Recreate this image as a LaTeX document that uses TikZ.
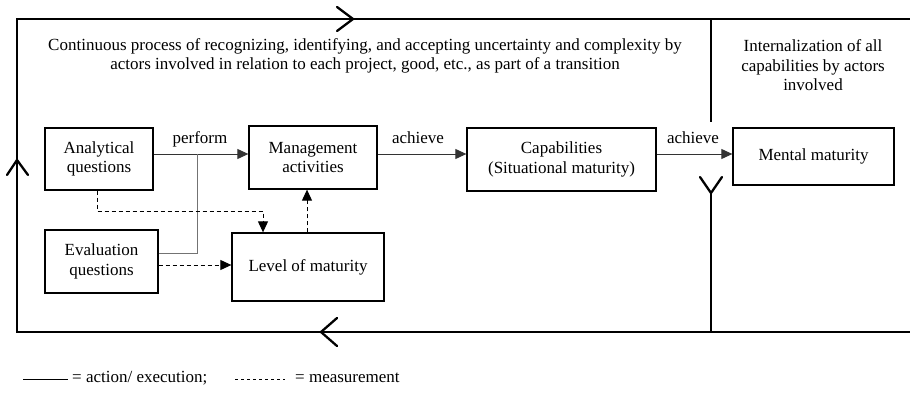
\documentclass[tikz,border=0pt]{standalone}
\usepackage{fontspec}
\setmainfont{Liberation Serif}
\usetikzlibrary{arrows.meta,calc}
\begin{document}
\begin{tikzpicture}[x=1pt,y=-1pt,
  txt/.style={font=\fontsize{17}{19.5}\selectfont,align=center,inner sep=0pt},
  box/.style={draw=black,line width=1.3pt,txt,minimum width=#1},
  frameline/.style={line width=2.3pt,line cap=butt},
  chev/.style={line width=2.3pt,line cap=round,line join=miter},
  conn/.style={line width=1pt,draw=black!80,-{Triangle[length=11pt,width=10pt]}},
  meas/.style={line width=1pt,dash pattern=on 4pt off 3pt,-{Triangle[length=11pt,width=10pt]}},
  lbl/.style={txt}
]
\useasboundingbox (0,0) rectangle (910,393);

% frame
\coordinate (tr) at (910,19);
\coordinate (tl) at (17,19);
\coordinate (bl) at (17,332);
\coordinate (br) at (910,332);
\draw[frameline] (tr) -- (tl) -- (bl) -- (br);
\coordinate (dtop) at (711,19);
\coordinate (dmid) at (711,122);
\coordinate (dlow) at (711,193);
\coordinate (dbot) at (711,332);
\draw[frameline] (dtop) -- (dmid);
\draw[frameline] (dlow) -- (dbot);
% chevrons
\draw[chev] (337,7) -- (353,19) -- (337,31);
\draw[chev] (7,175) -- (17,160) -- (28,175);
\draw[chev] (337,318) -- (321,332) -- (337,346);
\draw[chev] (700,177) -- (711,193) -- (722,177);

% texts
\node[txt] (maintext) at (365,56) {Continuous process of recognizing, identifying, and accepting uncertainty and complexity by\\actors involved in relation to each project, good, etc., as part of a transition};
\node[txt] (inttext) at (813,65.5) {Internalization of all\\capabilities by actors\\involved};

% boxes
\node[box=108pt,minimum height=62pt] (A) at (99,159) {Analytical\\questions};
\node[box=128pt,minimum height=63pt] (M) at (313,157.5) {Management\\activities};
\node[box=113pt,minimum height=63pt] (E) at (101.5,261.5) {Evaluation\\questions};
\node[box=152pt,minimum height=68pt] (L) at (308,267) {Level of maturity};
\node[box=189pt,minimum height=63pt] (C) at (561.5,159.5) {Capabilities\\(Situational maturity)};
\node[box=161pt,minimum height=57pt] (MM) at (813.5,156.5) {Mental maturity};

% connectors
\coordinate (j) at (197,154);
\draw[conn] (A.east |- j) -- (M.west |- j);
\draw[line width=1pt,draw=black!55] (E.east |- 0,253) -| (j);
\draw[conn] (M.east |- j) -- (C.west |- j);
\draw[conn] (C.east |- j) -- (MM.west |- j);
\node[lbl] (perform) at (200,139) {perform};
\node[lbl] (ach1) at (418,138) {achieve};
\node[lbl] (ach2) at (693,138) {achieve};

\draw[meas] (A.south -| 97,0) |- (263,211) -- (L.north -| 263,0);
\draw[meas] (E.east |- 0,265) -- (L.west |- 0,265);
\draw[meas] (L.north -| 307,0) -- (M.south -| 307,0);

% legend
\coordinate (ls1) at (23,379);
\coordinate (ls2) at (68,379);
\draw[line width=1pt] (ls1) -- (ls2);
\node[txt,anchor=west] (leg1) at (72,378) {= action/ execution;};
\coordinate (ld1) at (235,379);
\coordinate (ld2) at (285,379);
\draw[line width=0.9pt,dash pattern=on 3pt off 3pt] (ld1) -- (ld2);
\node[txt,anchor=west] (leg2) at (295,378) {= measurement};
\end{tikzpicture}
\end{document}
